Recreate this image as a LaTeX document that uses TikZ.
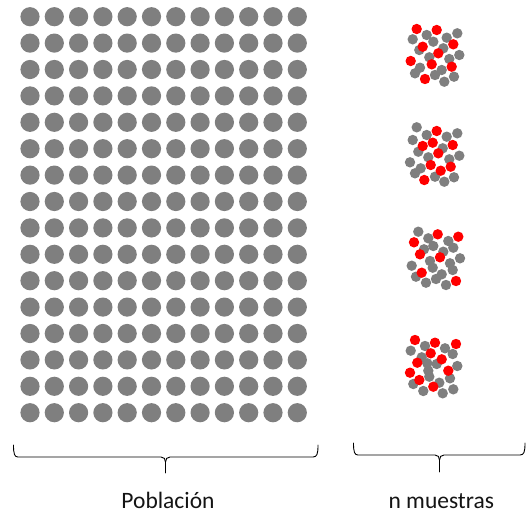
\documentclass[tikz,border=0pt]{standalone}
\usepackage{fontspec}
\setmainfont{Carlito}
\definecolor{dotgray}{RGB}{127,127,127}
\definecolor{dotred}{RGB}{255,0,0}
\definecolor{txt}{RGB}{20,20,20}
\begin{document}
\begin{tikzpicture}[x=1pt,y=-1pt,
  popdot/.style={fill=dotgray},
  gdot/.style={fill=dotgray},
  rdot/.style={fill=dotred},
  bracepath/.style={draw=black,line width=0.9pt,line cap=round,line join=round},
  label/.style={font=\fontsize{23.5}{28}\selectfont,text=txt,anchor=base,inner sep=0pt}]
\useasboundingbox (0,0) rectangle (528,515);
% population grid
\foreach \i in {0,...,11}{
  \foreach \j in {0,...,15}{
    \fill[popdot] ({30+\i*24.3},{16.7+\j*26.4}) circle (9.6);
  }
}
% cluster 1
\foreach \x/\y in {457.3/33.3,426.7/35,412.7/39.3,446.7/37.7,433.3/41.7,419.3/50,443.3/48.3,459.3/55,429.3/57.3,449.3/59,420/67.7,415/73.3,441.7/70,435/75,454/76.7,444.3/81.7}
  \fill[gdot] (\x,\y) circle (5.2);
\foreach \x/\y in {416.7/29,436.7/30,422.7/46.7,453.3/44.3,438.3/53.3,410.7/61,431.7/64.3,451.7/66.7,425/79}
  \fill[rdot] (\x,\y) circle (5.2);
% cluster 2
\foreach \x/\y in {416.7/127.3,426.7/135,412.7/140,446.7/136.7,457.3/133.3,418.3/151.7,442.7/148.3,459.3/155.7,428.3/157.3,449.3/159.3,410/162.3,420.7/168.3,415/173.3,435/176.7,454/177.3,444.3/181.7}
  \fill[gdot] (\x,\y) circle (5.2);
\foreach \x/\y in {436.7/131,422.7/146,432.7/142.7,452.7/145,438.3/153.3,430.7/165,450.7/166.7,440.7/170.7,424.3/180}
  \fill[rdot] (\x,\y) circle (5.2);
% cluster 3
\foreach \x/\y in {418.3/231.7,428.3/238.3,448.3/241,433.3/246,424/249.3,453.3/247.7,443.3/251.7,430/261,460/258.3,450/263.3,411.7/265.7,432.7/267.7,452.7/270,416/276.7,441.7/274.3,436/279,426/282.7,446/285}
  \fill[gdot] (\x,\y) circle (5.2);
\foreach \x/\y in {437.7/234.3,414/242.3,458.3/236.7,420/254.3,440/257.3,421.7/272.7,456/281}
  \fill[rdot] (\x,\y) circle (5.2);
% cluster 4
\foreach \x/\y in {425/346,410.7/350.7,445/348.3,452.7/354,421.7/357.3,427.3/363.3,436.7/364,457.3/366,428.3/370.7,450/378.3,429.3/376.7,413.3/384,439.3/382.7,423.3/391,442.7/393.3,453.3/389.3}
  \fill[gdot] (\x,\y) circle (5.2);
\foreach \x/\y in {415/340,435/342.7,456/344,430.7/353.3,441.7/359.3,417.3/362.7,410/372.7,448.3/370.7,419.3/380,433.3/386.7}
  \fill[rdot] (\x,\y) circle (5.2);
% braces
\coordinate (bl1) at (13.5,445);
\coordinate (bl2) at (318,445);
\coordinate (bltip) at (165.5,473);
\draw[bracepath] (bl1) .. controls (13.5,454) and (14.5,457) .. (18,457) -- (161,457)
  .. controls (164,457) and (165.5,459) .. (165.5,462) -- (bltip);
\draw[bracepath] (bl2) .. controls (318,454) and (317,457) .. (313,457) -- (170,457)
  .. controls (167,457) and (165.5,459) .. (165.5,462);
\coordinate (br1) at (353.5,443);
\coordinate (br2) at (525,443);
\coordinate (brtip) at (439.5,472);
\draw[bracepath] (br1) .. controls (353.5,452) and (354.5,455) .. (358,455) -- (435,455)
  .. controls (438,455) and (439.5,457) .. (439.5,460) -- (brtip);
\draw[bracepath] (br2) .. controls (525,452) and (524,455) .. (520,455) -- (444,455)
  .. controls (441,455) and (439.5,457) .. (439.5,460);
% labels
\node[label] (pob) at (168,508) {Población};
\node[label] (mue) at (441.3,508) {n muestras};
\end{tikzpicture}
\end{document}
